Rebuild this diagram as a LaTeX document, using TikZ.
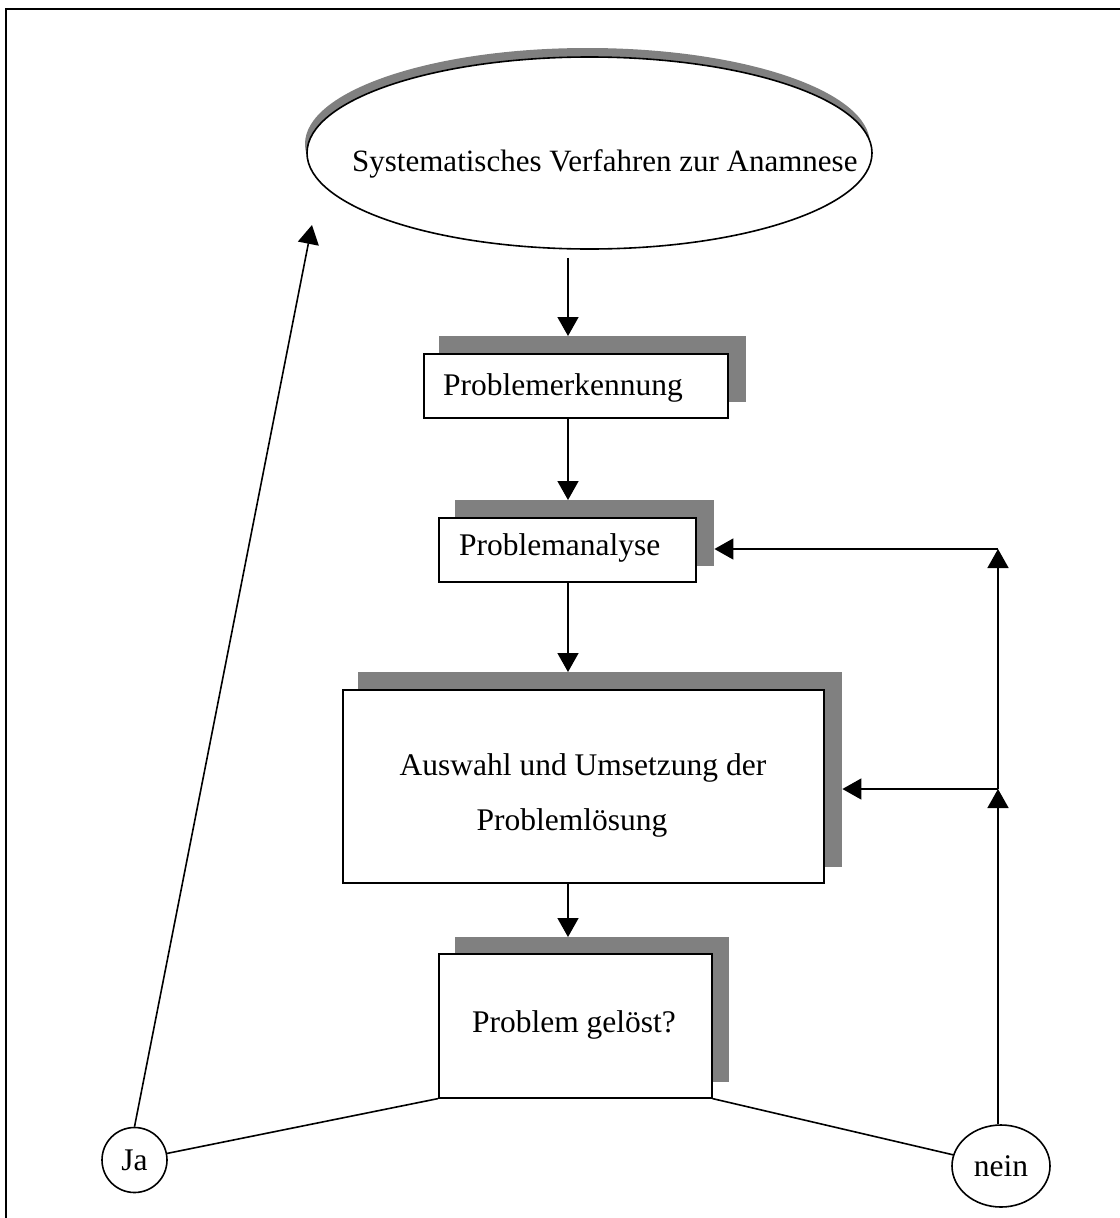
\documentclass[tikz,border=0pt]{standalone}
\usepackage{fontspec}
\setmainfont{Liberation Serif}
\usetikzlibrary{arrows.meta,shapes.geometric}
\definecolor{shadowgray}{RGB}{128,128,128}
\tikzset{
  lbl/.style={font=\fontsize{31.5}{55}\selectfont, inner sep=0pt},
  boxnode/.style={draw=black, line width=1.6pt, fill=white, inner sep=0pt, anchor=north west},
  shadownode/.style={fill=shadowgray, inner sep=0pt, anchor=north west},
  conn/.style={line width=1.6pt},
  arr/.style={conn, -{Triangle[width=21pt,length=19pt]}},
}
\begin{document}
\begin{tikzpicture}[x=1pt,y=-1pt]
\useasboundingbox (0,0) rectangle (1119,1218);
% frame
\draw[line width=2pt] (1125,9) -- (6,9) -- (6,1225);
% ellipse with shadow
\fill[shadowgray] (587.5,144) ellipse [x radius=282.5pt, y radius=96pt];
\node[ellipse, draw=black, line width=1.6pt, fill=white, minimum width=565pt, minimum height=192pt, inner sep=0pt] (ell) at (589.5,153) {};
\node[lbl, font=\fontsize{31}{36}\selectfont, anchor=base west] (t0) at (352,171) {Systematisches Verfahren zur Anamnese};
% Problemerkennung
\node[shadownode, minimum width=307pt, minimum height=66pt] (s1) at (439,336) {};
\node[boxnode, minimum width=304pt, minimum height=64pt] (b1) at (423,353) {};
\node[lbl, anchor=base west] (t1) at (443,395) {Problemerkennung};
% Problemanalyse
\node[shadownode, minimum width=259pt, minimum height=66pt] (s2) at (455,500) {};
\node[boxnode, minimum width=257pt, minimum height=64pt] (b2) at (438,517) {};
\node[lbl, anchor=base west] (t2) at (459,555) {Problemanalyse};
% Auswahl
\node[shadownode, minimum width=484pt, minimum height=195pt] (s3) at (358,672) {};
\node[boxnode, minimum width=481pt, minimum height=193pt] (b3) at (342,689) {};
\node[lbl, anchor=base] (t3a) at (583,775) {Auswahl und Umsetzung der};
\node[lbl, anchor=base] (t3b) at (572,830) {Problemlösung};
% Problem geloest
\node[shadownode, minimum width=274pt, minimum height=145pt] (s4) at (455,937) {};
\node[boxnode, minimum width=273pt, minimum height=144pt] (b4) at (438,953) {};
\node[lbl, anchor=base] (t4) at (574,1032) {Problem gelöst?};
% circles
\node[circle, draw=black, line width=1.6pt, minimum size=65pt, inner sep=0pt, font=\fontsize{31.5}{36}\selectfont] (ja) at (134.5,1160) {Ja};
\node[ellipse, draw=black, line width=1.6pt, minimum width=98pt, minimum height=82pt, inner sep=0pt, font=\fontsize{31.5}{36}\selectfont] (nein) at (1001,1166) {nein};
% helper coordinates
\coordinate (axis) at (568,0);
\coordinate (c1) at (998,549);
\coordinate (c2) at (998,789);
\coordinate (tipJ) at (312,225);
% main flow arrows
\draw[arr, shorten <=8pt] (ell.south -| axis) -- (s1.north -| axis);
\draw[arr] (b1.south -| axis) -- (s2.north -| axis);
\draw[arr] (b2.south -| axis) -- (s3.north -| axis);
\draw[arr] (b3.south -| axis) -- (s4.north -| axis);
% decision lines
\draw[conn] (b4.south west) -- (ja);
\draw[conn] (b4.south east) -- (nein);
\draw[arr] (ja.north) -- (tipJ);
% feedback loop
\draw[arr] (nein.north -| c2) -- (c2);
\draw[arr] (c2) -- (c1);
\draw[arr] (c1) -- (s2.east |- c1);
\draw[arr] (c2) -- (s3.east |- c2);
\end{tikzpicture}
\end{document}
